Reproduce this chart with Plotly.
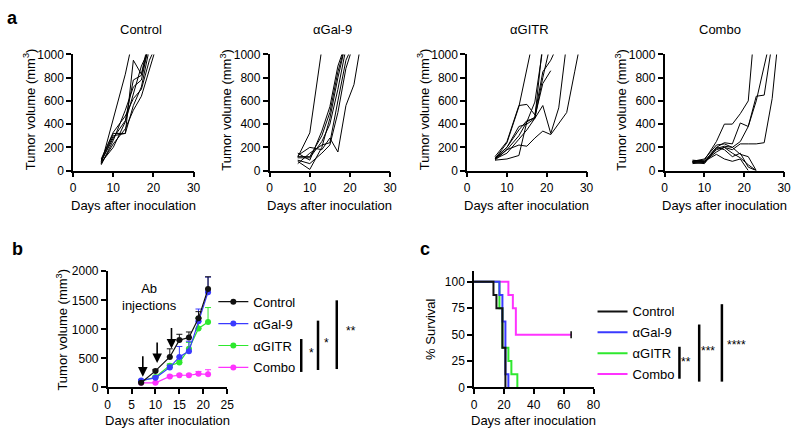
import plotly.graph_objects as go

W, H = 800, 438
def px(x): return x / W
def py(y): return 1 - y / H

FONT = "Arial, Liberation Sans, sans-serif"

# ---------------- Panel a data (individual mice) ----------------
days_a = [7, 10, 13, 15, 17, 19, 21, 23, 25, 27, 29]
groups_a = ["Control", "αGal-9", "αGITR", "Combo"]
control_mice = [
    [60, 450, 830, 1150],
    [80, 300, 320, 950, 830, 1150],
    [50, 260, 520, 720, 780, 1100],
    [90, 320, 320, 560, 720, 1050],
    [70, 200, 420, 650, 900, 1050],
    [100, 330, 470, 620, 700, 950, 1100],
    [60, 230, 360, 520, 640, 880, 1100],
    [80, 280, 430, 780, 820, 1100],
]
gal9_mice = [
    [115, 325, 1050],
    [80, 10, 200, 450, 800, 1100],
    [130, 200, 180, 280, 160, 560, 740, 1150],
    [150, 90, 340, 550, 900, 1100],
    [110, 110, 250, 400, 700, 1050],
    [60, 150, 220, 240, 600, 950, 1100],
    [120, 120, 300, 500, 850, 1100],
    [90, 60, 150, 220, 500, 880, 1100],
]
gitr_mice = [
    [100, 240, 550, 850, 1200],
    [110, 200, 350, 430, 450, 1100],
    [90, 100, 130, 420, 590, 1050],
    [100, 180, 300, 420, 460, 750, 860],
    [120, 250, 560, 570, 480, 850, 950, 1100],
    [100, 200, 380, 400, 450, 560, 320, 540, 1100],
    [90, 180, 220, 210, 280, 340, 310, 400, 500, 850, 1200],
    [100, 150, 270, 350, 450, 800, 1100],
]
combo_mice = [
    [80, 90, 250, 400, 400, 490, 600, 1400],
    [70, 80, 200, 240, 230, 410, 380, 640, 650, 1100],
    [80, 100, 220, 230, 200, 250, 380, 600, 900, 1200],
    [75, 70, 180, 200, 180, 230, 230, 230, 240, 620, 1300],
    [80, 80, 160, 200, 150, 110, 50, 0],
    [90, 80, 140, 100, 80, 100, 0],
    [60, 70, 200, 180, 120, 150, 30, 0],
    [70, 60, 190, 210, 200, 140, 120, 0],
]
mice_a = [control_mice, gal9_mice, gitr_mice, combo_mice]

# ---------------- Panel b data (mean + SEM) ----------------
days_b = [7, 10, 13, 15, 17, 19, 21]
names_b = ["Control", "αGal-9", "αGITR", "Combo"]
mean_control = [80, 285, 525, 815, 860, 1190, 1695]
err_control = [15, 25, 140, 100, 95, 115, 210]
mean_gal9 = [120, 165, 345, 525, 625, 1140, 1640]
err_gal9 = [15, 20, 40, 180, 170, 210, 260]
mean_gitr = [110, 180, 375, 430, 665, 1015, 1125]
err_gitr = [10, 20, 30, 30, 110, 190, 250]
mean_combo = [80, 80, 190, 210, 210, 235, 225]
err_combo = [10, 10, 20, 20, 20, 40, 80]
injection_days = [7, 10, 13]

# ---------------- Panel c data (survival) ----------------
t_control = [0, 13, 15, 19, 21]
s_control = [100, 87.5, 75, 37.5, 0]
t_gal9 = [0, 17, 19, 21, 23]
s_gal9 = [100, 87.5, 62.5, 12.5, 0]
t_gitr = [0, 17, 19, 23, 25, 29]
s_gitr = [100, 75, 37.5, 25, 12.5, 0]
t_combo = [0, 23, 26, 28, 65]
s_combo = [100, 87.5, 75, 50, 50]
censor_t = [65]
censor_s = [50]

colors = {"Control": "#111111", "αGal-9": "#3a3aff", "αGITR": "#2ee82e", "Combo": "#ff33ff"}

fig = go.Figure()

axis_common = dict(showline=True, linecolor="black", linewidth=1.5, ticks="outside",
                   ticklen=5, tickwidth=1.5, tickcolor="black", showgrid=False,
                   zeroline=False, tickfont=dict(family=FONT, size=12, color="black"))

a_x_dom = [(71, 193), (270, 392), (470, 591), (670, 791)]
a_title_x = [140, 334, 533, 726]
layout_axes = {}
annotations = []
shapes = []

for i, (g, mice) in enumerate(zip(groups_a, mice_a)):
    n = i + 1
    xa = "x" if n == 1 else f"x{n}"
    ya = "y" if n == 1 else f"y{n}"
    for m in mice:
        fig.add_trace(go.Scatter(x=days_a[:len(m)], y=m, mode="lines",
                                 line=dict(color="black", width=1), showlegend=False,
                                 xaxis=xa, yaxis=ya, hoverinfo="skip"))
    x0, x1 = a_x_dom[i]
    layout_axes[f"xaxis{'' if n == 1 else n}"] = dict(
        domain=[px(x0), px(x1)], range=[0, 30], dtick=10, anchor=ya, **axis_common)
    layout_axes[f"yaxis{'' if n == 1 else n}"] = dict(
        domain=[py(169), py(49)], range=[0, 1000], dtick=200, anchor=xa, **axis_common)
    annotations.append(dict(text=g, x=px(a_title_x[i]), y=py(23), xref="paper", yref="paper",
                            showarrow=False, font=dict(family=FONT, size=13, color="black"),
                            xanchor="center", yanchor="middle"))
    annotations.append(dict(text="Days after inoculation", x=px((x0 + x1) / 2), y=py(205),
                            xref="paper", yref="paper", showarrow=False,
                            font=dict(family=FONT, size=13, color="black"),
                            xanchor="center", yanchor="middle"))
    annotations.append(dict(text="Tumor volume (mm<sup>3</sup>)", x=px(x0 - 45), y=py(106),
                            xref="paper", yref="paper", showarrow=False, textangle=-90,
                            font=dict(family=FONT, size=13, color="black"),
                            xanchor="center", yanchor="middle"))

# Panel b
means_b = [mean_control, mean_gal9, mean_gitr, mean_combo]
errs_b = [err_control, err_gal9, err_gitr, err_combo]
for k in [3, 2, 1, 0]:
    nm = names_b[k]
    fig.add_trace(go.Scatter(
        x=days_b, y=means_b[k], mode="lines+markers", name=nm,
        line=dict(color=colors[nm], width=1.2),
        marker=dict(color=colors[nm], size=6, symbol="circle"),
        error_y=dict(type="data", array=errs_b[k], arrayminus=[0] * len(days_b),
                     symmetric=False, color=colors[nm], thickness=1, width=3),
        xaxis="x5", yaxis="y5", legend="legend", legendgroup=f"b{k}", legendrank=k + 1))
layout_axes["xaxis5"] = dict(domain=[px(106), px(227)], range=[0, 25], dtick=5, anchor="y5", **axis_common)
layout_axes["yaxis5"] = dict(domain=[py(393), py(273)], range=[0, 2000], dtick=500, anchor="x5", **axis_common)

for d, tip in zip(injection_days, [185, 420, 670]):
    annotations.append(dict(x=d + 0.35, y=tip, xref="x5", yref="y5", text="", showarrow=True,
                            arrowhead=2, arrowsize=1.2, arrowwidth=1.6, arrowcolor="black",
                            ax=0, ay=-22))
annotations.append(dict(text="Ab<br>injections", x=px(148), y=py(300), xref="paper", yref="paper",
                        showarrow=False, font=dict(family=FONT, size=13, color="black"),
                        xanchor="center", yanchor="middle"))
annotations.append(dict(text="Days after inoculation", x=px(166.5), y=py(427), xref="paper",
                        yref="paper", showarrow=False, font=dict(family=FONT, size=13, color="black"),
                        xanchor="center", yanchor="middle"))
annotations.append(dict(text="Tumor volume (mm<sup>3</sup>)", x=px(60), y=py(333), xref="paper",
                        yref="paper", showarrow=False, textangle=-90,
                        font=dict(family=FONT, size=13, color="black"),
                        xanchor="center", yanchor="middle"))

# Panel c
surv = [(t_control, s_control), (t_gal9, s_gal9), (t_gitr, s_gitr), (t_combo, s_combo)]
for k in [3, 2, 1, 0]:
    nm = names_b[k]
    t, s = surv[k]
    fig.add_trace(go.Scatter(x=t, y=s, mode="lines", name=nm, line=dict(color=colors[nm], width=2, shape="hv"),
                             xaxis="x6", yaxis="y6", legend="legend2", legendgroup=f"c{k}",
                             legendrank=k + 1))
fig.add_trace(go.Scatter(x=censor_t, y=censor_s, mode="markers", showlegend=False,
                         marker=dict(symbol="line-ns", size=5, line=dict(color="black", width=1.5)),
                         xaxis="x6", yaxis="y6"))
layout_axes["xaxis6"] = dict(domain=[px(477), px(598)], range=[0, 80], dtick=20, anchor="y6", **axis_common)
layout_axes["yaxis6"] = dict(domain=[py(393), py(273)], range=[0, 110], tickvals=[0, 25, 50, 75, 100],
                             anchor="x6", **axis_common)
annotations.append(dict(text="Days after inoculation", x=px(537.5), y=py(427), xref="paper",
                        yref="paper", showarrow=False, font=dict(family=FONT, size=13, color="black"),
                        xanchor="center", yanchor="middle"))
annotations.append(dict(text="% Survival", x=px(433), y=py(333), xref="paper",
                        yref="paper", showarrow=False, textangle=-90,
                        font=dict(family=FONT, size=13, color="black"),
                        xanchor="center", yanchor="middle"))

# panel letters
for lt, xx, yy in [("a", 10, 11), ("b", 15, 250), ("c", 427, 250)]:
    annotations.append(dict(text=f"<b>{lt}</b>", x=px(xx), y=py(yy), xref="paper", yref="paper",
                            showarrow=False, font=dict(family=FONT, size=18, color="black"),
                            xanchor="center", yanchor="middle"))

# significance bars
sig = [
    (302, 343, 377, "*", 312, 357),
    (319, 324, 375, "*", 328, 347),
    (338, 303, 374, "**", 352, 335),
    (685, 351, 384, "**", 692, 367),
    (705, 328, 387, "***", 714, 355),
    (728, 307, 387, "****", 743, 349),
]
for bx, y0, y1, st, sx, sy in sig:
    shapes.append(dict(type="line", xref="paper", yref="paper", x0=px(bx), x1=px(bx),
                       y0=py(y0), y1=py(y1), line=dict(color="black", width=2.5)))
    annotations.append(dict(text=st, x=px(sx), y=py(sy), xref="paper", yref="paper", showarrow=False,
                            font=dict(family=FONT, size=12, color="black"),
                            xanchor="center", yanchor="middle"))

fig.update_layout(
    width=W, height=H, margin=dict(l=0, r=0, t=0, b=0),
    paper_bgcolor="white", plot_bgcolor="white",
    font=dict(family=FONT, size=12, color="black"),
    annotations=annotations, shapes=shapes,
    legend=dict(x=px(213), y=py(289), xanchor="left", yanchor="top", bgcolor="rgba(0,0,0,0)",
                font=dict(family=FONT, size=13, color="black"), tracegroupgap=2, itemwidth=30),
    legend2=dict(x=px(597), y=py(299), xanchor="left", yanchor="top", bgcolor="rgba(0,0,0,0)",
                 font=dict(family=FONT, size=13, color="black"), tracegroupgap=1, itemwidth=30),
    **layout_axes,
)

fig.write_html("out.html", config={"displayModeBar": False},
               post_script="document.body.style.margin='0';document.body.style.overflow='hidden';")
